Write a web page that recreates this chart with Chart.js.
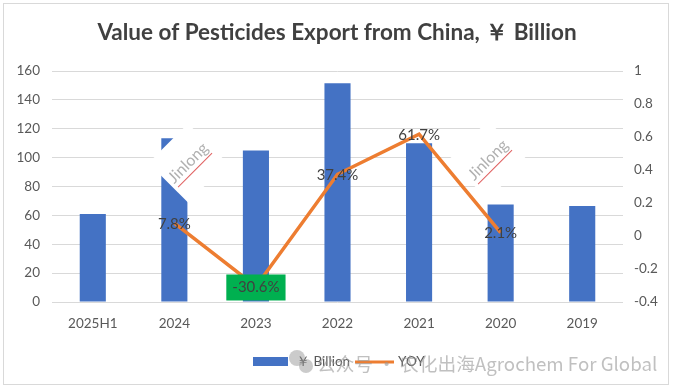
<!DOCTYPE html>
<html>
<head>
<meta charset="utf-8">
<script src="https://cdn.jsdelivr.net/npm/chart.js@4.4.1/dist/chart.umd.min.js"></script>
<style>
  html, body { margin: 0; padding: 0; background: #fff; }
  #wrap { width: 674px; height: 390px; }
</style>
</head>
<body>
<div id="wrap"><canvas id="chart" width="674" height="390"></canvas></div>
<script>
// values
const categories = ["2025H1", "2024", "2023", "2022", "2021", "2020", "2019"];
const exportValues = [61, 113.5, 105, 151.5, 110, 67.5, 66.5];
const yoyValues = [null, 0.078, -0.306, 0.374, 0.617, 0.021, null];
const yoyLabels = [null, "7.8%", "-30.6%", "37.4%", "61.7%", "2.1%", null];
const titleText = "Value of Pesticides Export from China, \uFFE5 Billion";
const barLegend = "\uFFE5 Billion";
const lineLegend = "YOY";
const watermarkText = "公众号 · 农化出海Agrochem For Global";

const blue = "#4472C4";
const orange = "#ED7D31";
const gridColor = "#d9d9d9";
const textColor = "#595959";

// white box, border and title
const framePlugin = {
    id: "frame",
    beforeDraw(chart) {
        const ctx = chart.ctx;
        ctx.save();
        ctx.fillStyle = "#fff";
        ctx.fillRect(0, 0, chart.width, chart.height);
        ctx.strokeStyle = gridColor;
        ctx.lineWidth = 1;
        ctx.strokeRect(3.5, 3.5, 665, 381);
        ctx.fillStyle = "#404040";
        ctx.font = "bold 22.5px Lato";
        ctx.textAlign = "center";
        ctx.textBaseline = "middle";
        ctx.fillText(titleText, 337, 33);
        ctx.restore();
    }
};

// percent labels centred on the line points
const labelPlugin = {
    id: "yoyLabels",
    afterDatasetsDraw(chart) {
        const ctx = chart.ctx;
        const meta = chart.getDatasetMeta(0);
        ctx.save();
        ctx.font = "15px Lato";
        ctx.textAlign = "center";
        ctx.textBaseline = "middle";
        meta.data.forEach((pt, i) => {
            const txt = yoyLabels[i];
            if (!txt) return;
            if (yoyValues[i] < 0) {
                const w = ctx.measureText(txt).width + 12;
                ctx.fillStyle = "#00B050";
                ctx.fillRect(pt.x - w / 2, pt.y - 12, w, 26);
            }
            ctx.fillStyle = "#404040";
            ctx.fillText(txt, pt.x, pt.y + 1);
        });
        ctx.restore();
    }
};

// legend + the watermarks that sit on the picture
const overlayPlugin = {
    id: "overlay",
    afterDraw(chart) {
        const ctx = chart.ctx;
        ctx.save();

        // "Jinlong" stamps
        [[188, 163], [488, 160]].forEach(([cx, cy]) => {
            ctx.save();
            ctx.translate(cx, cy);
            ctx.rotate(-Math.PI / 4);
            ctx.fillStyle = "#fff";
            ctx.fillRect(-28, -28, 56, 56);
            ctx.fillStyle = "#b0b0b0";
            ctx.font = "16px Lato";
            ctx.textAlign = "center";
            ctx.textBaseline = "middle";
            ctx.fillText("Jinlong", 0, 0);
            ctx.strokeStyle = "#e06060";
            ctx.lineWidth = 1;
            ctx.beginPath();
            ctx.moveTo(-24, 10);
            ctx.lineTo(24, 10);
            ctx.stroke();
            ctx.restore();
        });

        // legend
        ctx.fillStyle = blue;
        ctx.fillRect(253, 357, 35, 9);
        ctx.strokeStyle = orange;
        ctx.lineWidth = 3;
        ctx.beginPath();
        ctx.moveTo(355, 362);
        ctx.lineTo(394, 362);
        ctx.stroke();
        ctx.fillStyle = textColor;
        ctx.font = "13.5px Lato";
        ctx.textBaseline = "middle";
        ctx.textAlign = "left";
        ctx.fillText(barLegend, 296, 362);
        ctx.fillText(lineLegend, 398, 362);

        // wechat watermark, fitted to the width it takes in the picture
        ctx.fillStyle = "rgba(140,140,140,0.45)";
        ctx.beginPath();
        ctx.arc(297, 358, 8, 0, Math.PI * 2);
        ctx.fill();
        ctx.beginPath();
        ctx.arc(306, 366, 7, 0, Math.PI * 2);
        ctx.fill();
        let size = 20;
        ctx.font = size + "px 'Noto Sans CJK SC'";
        const w = ctx.measureText(watermarkText).width;
        size = size * 340 / w;
        ctx.font = size.toFixed(1) + "px 'Noto Sans CJK SC'";
        ctx.fillStyle = "rgba(150,150,150,0.6)";
        ctx.fillText(watermarkText, 317, 364);
        ctx.restore();
    }
};

const ctx = document.getElementById("chart").getContext("2d");
new Chart(ctx, {
    data: {
        labels: categories,
        datasets: [
            {
                type: "line",
                label: lineLegend,
                data: yoyValues,
                yAxisID: "y1",
                borderColor: orange,
                backgroundColor: orange,
                borderWidth: 3.5,
                pointRadius: 0,
                tension: 0,
                order: 0,
            },
            {
                type: "bar",
                label: barLegend,
                data: exportValues,
                yAxisID: "y",
                backgroundColor: blue,
                barPercentage: 0.32,
                categoryPercentage: 1,
                order: 1,
            },
        ],
    },
    options: {
        responsive: false,
        animation: false,
        layout: { padding: { top: 71, bottom: 58, left: 0, right: 0 } },
        plugins: {
            legend: { display: false },
            title: { display: false },
            tooltip: { enabled: false },
        },
        scales: {
            x: {
                grid: { display: false },
                border: { display: false },
                ticks: { color: textColor, font: { family: "Lato", size: 13.5 }, padding: 6 },
                afterFit(scale) { scale.height = 30; },
            },
            y: {
                position: "left",
                min: 0,
                max: 160,
                ticks: { stepSize: 20, color: textColor, font: { family: "Lato", size: 13.5 }, padding: 12 },
                grid: { color: gridColor, drawTicks: false },
                border: { display: false },
                afterFit(scale) { scale.width = 52; },
            },
            y1: {
                position: "right",
                min: -0.4,
                max: 1,
                ticks: {
                    stepSize: 0.2,
                    color: textColor,
                    font: { family: "Lato", size: 13.5 },
                    padding: 11,
                    callback: (v) => String(Math.round(v * 10) / 10),
                },
                grid: { display: false, drawTicks: false },
                border: { display: false },
                afterFit(scale) { scale.width = 51; },
            },
        },
    },
    plugins: [framePlugin, labelPlugin, overlayPlugin],
});
</script>
</body>
</html>
